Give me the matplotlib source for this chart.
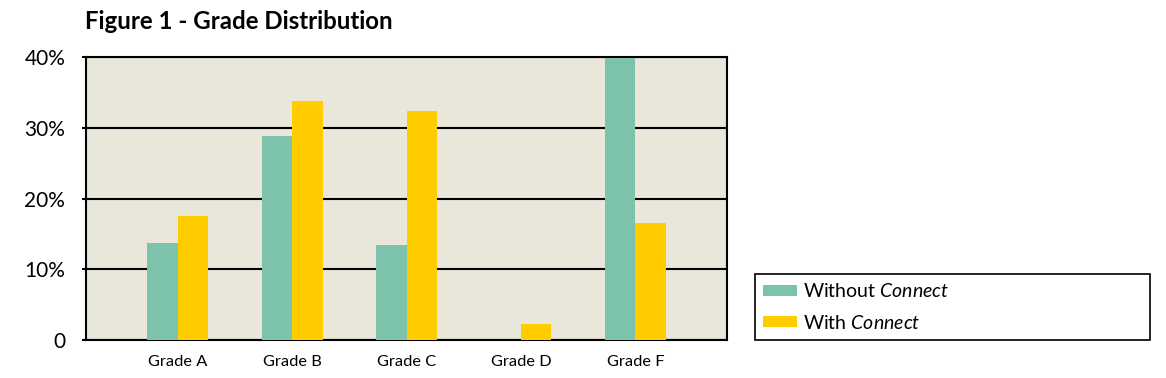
import numpy as np
import matplotlib
matplotlib.use("Agg")
import matplotlib.pyplot as plt

plt.rcParams['font.family'] = ['Lato', 'DejaVu Sans']
plt.rcParams['mathtext.fontset'] = 'custom'
plt.rcParams['mathtext.rm'] = 'Lato'
plt.rcParams['mathtext.it'] = 'Lato:italic'

# values (percent)
grades = ['Grade A', 'Grade B', 'Grade C', 'Grade D', 'Grade F']
without_connect = [13.7, 28.8, 13.4, 0.0, 39.8]
with_connect = [17.5, 33.8, 32.4, 2.3, 16.6]
series_labels = ['Without $\\mathit{Connect}$', 'With $\\mathit{Connect}$']
yticks = [0, 10, 20, 30, 40]
ytick_labels = ['0', '10%', '20%', '30%', '40%']

teal = '#7DC3AC'
yellow = '#FFCC00'

fig = plt.figure(figsize=(11.66, 3.78), dpi=100)
ax = fig.add_axes([0.0738, 0.1005, 0.5497, 0.7485])
ax.set_facecolor('#E9E6DA')

x = np.arange(len(grades))
w = 0.266
b1 = ax.bar(x - w / 2, without_connect, w, color=teal, label=series_labels[0], zorder=3)
b2 = ax.bar(x + w / 2, with_connect, w, color=yellow, label=series_labels[1], zorder=3)

ax.set_xlim(-0.8, 4.8)
ax.set_ylim(0, 40)
ax.set_yticks(yticks)
ax.set_yticklabels(ytick_labels, fontsize=15)
ax.set_xticks(x)
ax.set_xticklabels(grades, fontsize=11.8)
ax.tick_params(axis='x', length=0, pad=11)
ax.tick_params(axis='y', length=3, width=1.5, pad=12)
ax.yaxis.grid(True, color='black', linewidth=1.5, zorder=1)
ax.set_axisbelow(True)
for s in ax.spines.values():
    s.set_linewidth(1.5)
    s.set_color('black')

fig.text(0.073, 0.943, 'Figure 1 - Grade Distribution', fontsize=17.3,
         fontweight='bold', ha='left', va='center')

leg = fig.legend(handles=[b1, b2], loc='lower left',
                 bbox_to_anchor=(0.6475, 0.1005, 0.3388, 0.1878), mode='expand',
                 fontsize=14, frameon=True, fancybox=False, edgecolor='black',
                 framealpha=1, handlelength=1.75, handleheight=0.5,
                 labelspacing=0.7, borderpad=0.42, handletextpad=0.28,
                 borderaxespad=0)
leg.get_frame().set_linewidth(1.2)

fig.savefig('out.png', dpi=100)
